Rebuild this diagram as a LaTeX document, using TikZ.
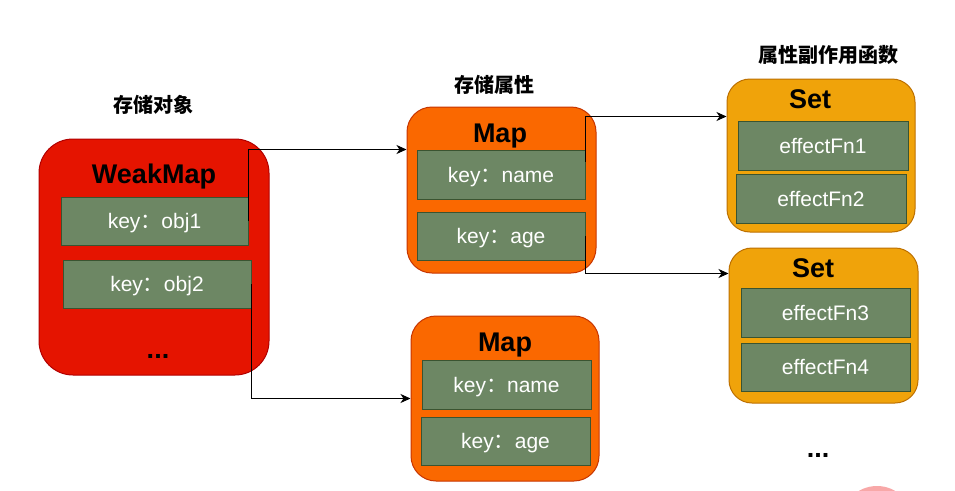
\documentclass[tikz,border=0pt]{standalone}
\usepackage{fontspec}
\setmainfont{Liberation Sans}
\newfontfamily\cjk{Noto Sans CJK SC}
\usetikzlibrary{arrows.meta,calc}
\definecolor{wmfill}{HTML}{E51400}
\definecolor{wmline}{HTML}{B20000}
\definecolor{mapfill}{HTML}{FA6800}
\definecolor{mapline}{HTML}{C73500}
\definecolor{setfill}{HTML}{F0A30A}
\definecolor{setline}{HTML}{BD7000}
\definecolor{keyfill}{HTML}{6D8764}
\definecolor{keyline}{HTML}{3A5431}
\definecolor{blush}{HTML}{F8A8A8}
\newcommand\kc{{\cjk ：}}
\tikzset{
 keybox/.style={draw=keyline, fill=keyfill, line width=1pt, text=white, inner sep=0pt,
  text depth=0pt, font=\fontsize{21}{25}\selectfont},
 holder/.style={line width=1pt, inner sep=0pt},
 heading/.style={anchor=base, inner sep=0pt, font=\bfseries\fontsize{27}{30}\selectfont},
 caption/.style={inner sep=0pt, font=\cjk\bfseries\fontsize{20}{24}\selectfont},
 link/.style={draw=black, line width=1pt, -{Stealth[length=10pt,width=9pt,inset=3pt]}}
}
\begin{document}
\begin{tikzpicture}[x=1pt,y=-1pt]
 \clip (0,0) rectangle (955,490);
 \fill[white] (0,0) rectangle (955,490);
 \fill[blush] (877,522) circle [radius=36pt];

 \node[caption] at (153,105)(capobj){存储对象};
 \node[caption] at (494,85)(capprop){存储属性};
 \node[caption] at (828,55)(capfn){属性副作用函数};

 \node[holder, draw=wmline, fill=wmfill, rounded corners=34pt,
  minimum width=230pt, minimum height=236pt] at (154,257)(wm){};
 \node[heading] at (154,183)(wmtitle){WeakMap};
 \node[keybox, minimum width=187pt, minimum height=48pt] at (154.5,221)(obj1){key\kc obj1};
 \node[keybox, minimum width=188pt, minimum height=48pt] at (157,284)(obj2){key\kc obj2};
 \node[heading] at (158,358)(wmdots){...};

 \node[holder, draw=mapline, fill=mapfill, rounded corners=25pt,
  minimum width=189pt, minimum height=166pt] at (501.5,190)(map1){};
 \node[heading] at (500,142)(map1title){Map};
 \node[keybox, minimum width=168pt, minimum height=49pt] at (501,174.5)(name1){key\kc name};
 \node[keybox, minimum width=168pt, minimum height=48pt] at (501,236)(age1){key\kc age};

 \node[holder, draw=mapline, fill=mapfill, rounded corners=25pt,
  minimum width=188pt, minimum height=165pt] at (505,398.5)(map2){};
 \node[heading] at (505,351)(map2title){Map};
 \node[keybox, minimum width=169pt, minimum height=49pt] at (506.5,384.5)(name2){key\kc name};
 \node[keybox, minimum width=169pt, minimum height=48pt] at (505.5,441)(age2){key\kc age};

 \node[holder, draw=setline, fill=setfill, rounded corners=23pt,
  minimum width=188pt, minimum height=153pt] at (821,155.5)(set1){};
 \node[heading] at (810,108)(set1title){Set};
 \node[keybox, minimum width=170pt, minimum height=49pt] at (823,145.5)(fn1){effectFn1};
 \node[keybox, minimum width=170pt, minimum height=49pt] at (821,198.5)(fn2){effectFn2};

 \node[holder, draw=setline, fill=setfill, rounded corners=23pt,
  minimum width=189pt, minimum height=155pt] at (823.5,325.5)(set2){};
 \node[heading] at (813,277)(set2title){Set};
 \node[keybox, minimum width=169pt, minimum height=49pt] at (825.5,312.5)(fn3){effectFn3};
 \node[keybox, minimum width=169pt, minimum height=48pt] at (825.5,367)(fn4){effectFn4};
 \node[heading] at (818,457)(setdots){...};

 \draw[link] (obj1.east) |- (map1.west |- name1.north);
 \draw[link] (obj2.east) |- (map2.west);
 \draw[link] ($(name1.north east)+(0,12)$) |- ($(set1.west |- map1.north)+(0,10)$);
 \draw[link] (age1.east) |- (set2.west |- map1.south);
\end{tikzpicture}
\end{document}
